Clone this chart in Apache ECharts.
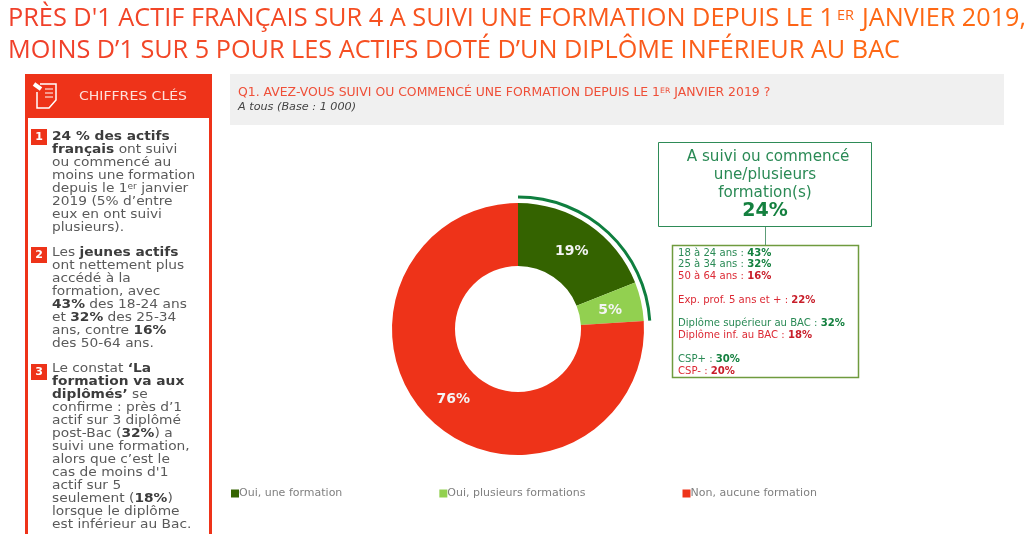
<!DOCTYPE html>
<html><head><meta charset="utf-8">
<style>html,body{margin:0;padding:0;background:#fff}#c{width:1024px;height:534px}</style>
<script src="https://cdn.jsdelivr.net/npm/echarts@6/dist/echarts.min.js"></script>
</head><body><div id="c"></div>
<script>
const categories = ['Oui, une formation','Oui, plusieurs formations','Non, aucune formation'];
const values = [19,5,76];
const arcValues = [24,76];
const titleA = "PRÈS D'1 ACTIF FRANÇAIS SUR 4 A SUIVI UNE FORMATION DEPUIS LE 1";
const titleSup = 'ER';
const titleB = 'JANVIER 2019,';
const title2 = "MOINS D’1 SUR 5 POUR LES ACTIFS DOTÉ D’UN DIPLÔME INFÉRIEUR AU BAC";
const header = 'CHIFFRES CLÉS';
const note1 = '{b|24 % des actifs}\n{b|français} ont suivi\nou commencé au\nmoins une formation\ndepuis le 1{s|er} janvier\n2019 (5% d’entre\neux en ont suivi\nplusieurs).';
const note2 = 'Les {b|jeunes actifs}\nont nettement plus\naccédé à la\nformation, avec\n{b|43%} des 18-24 ans\net {b|32%} des 25-34\nans, contre {b|16%}\ndes 50-64 ans.';
const note3 = "Le constat {b|‘La}\n{b|formation va aux}\n{b|diplômés’} se\nconfirme : près d’1\nactif sur 3 diplômé\npost-Bac ({b|32%}) a\nsuivi une formation,\nalors que c’est le\ncas de moins d'1\nactif sur 5\nseulement ({b|18%})\nlorsque le diplôme\nest inférieur au Bac.";
const q1 = 'Q1. AVEZ-VOUS SUIVI OU COMMENCÉ UNE FORMATION DEPUIS LE 1{s|ER} JANVIER 2019 ?';
const base = 'A tous (Base : 1 000)';
const calloutLines = ['A suivi ou commencé','une/plusieurs','formation(s)'];
const calloutValue = '24%';
const detailRows = [
 ['18 à 24 ans : ','43%','g'],['25 à 34 ans : ','32%','g'],['50 à 64 ans : ','16%','r'],['',''  ,'g'],
 ['Exp. prof. 5 ans et + : ','22%','r'],['','','g'],
 ['Diplôme supérieur au BAC : ','32%','g'],['Diplôme inf. au BAC : ','18%','r'],['','','g'],
 ['CSP+ : ','30%','g'],['CSP- : ','20%','r']
];
const FONT='"DejaVu Sans",Verdana,sans-serif', TF='"Open Sans","Noto Sans",sans-serif';
const RED='#ee3319';
const rect=(x,y,w,h,fill,stroke,lw)=>({type:'rect',shape:{x,y,width:w,height:h},style:{fill:fill||'none',stroke:stroke||'none',lineWidth:lw||0},silent:true});
const text=(x,y,t,st,extra)=>Object.assign({type:'text',x,y,silent:true,style:Object.assign({text:t,fontFamily:FONT,fontSize:12,fill:'#555',verticalAlign:'top'},st)},extra||{});
// title pieces: each word tinted along the left-to-right red/orange fade
const ctx=document.createElement('canvas').getContext('2d');
const tint=x=>{const t=Math.min(1,Math.max(0,(x-8)/900));const m=(a,b)=>Math.round(a+(b-a)*t);return `rgb(${m(240,255)},${m(64,106)},${m(42,19)})`;};
function words(str,x0,y,size,endX){
  ctx.font=size+'px '+TF;
  const k=(endX-x0)/ctx.measureText(str).width;
  const out=[];let pos=0;
  str.split(' ').forEach(w=>{
    const x=x0+ctx.measureText(str.slice(0,pos)).width*k;
    out.push(text(x,y,w,{fontFamily:TF,fontSize:size,fill:tint(x)},{scaleX:k}));
    pos+=w.length+1;
  });
  return out;
}
const noteStyle={fontFamily:FONT,fontSize:12.2,lineHeight:13,fill:'#5a5a5a',
  rich:{b:{fontFamily:FONT,fontSize:12.2,fontWeight:'bold',fill:'#3c3c3c',lineHeight:13},s:{fontFamily:FONT,fontSize:8,fill:'#5a5a5a',verticalAlign:'top',lineHeight:13}}};
const num=(y,n)=>[rect(31,y,16,16,RED),text(39,y+8.5,n,{fontSize:11,fontWeight:'bold',fill:'#fff',align:'center',verticalAlign:'middle'})];
const detailText=detailRows.map(r=>r[0]?`{${r[2]}|${r[0]}}{${r[2]}b|${r[1]}}`:'{g| }').join('\n');
const DS=10.1,DL=11.8;
const g=[
 ...words(titleA,8,6,25.3,834),
 text(837,8,titleSup,{fontFamily:TF,fontSize:14.5,fill:'#fd6414'}),
 ...words(titleB,862,6,25.3,1026),
 ...words(title2,8,38,25.3,900),
 // sidebar
 rect(26.5,75.5,184,470,'#fff',RED,3),
 rect(25,74,187,44,RED),
 text(133,97,header,{fontSize:12,fill:'#fde0da',align:'center',verticalAlign:'middle'},{scaleX:1.17}),
 // icon
 {type:'polyline',silent:true,shape:{points:[[40,84],[56,84],[56,100],[49,108],[37,108],[37,92]]},style:{fill:'none',stroke:'#fff',lineWidth:1.5}},
 {type:'line',silent:true,shape:{x1:34,y1:84,x2:41,y2:89},style:{stroke:'#fff',lineWidth:4}},
 {type:'line',silent:true,shape:{x1:45,y1:89,x2:53,y2:89},style:{stroke:'#fff',lineWidth:1}},
 {type:'line',silent:true,shape:{x1:45,y1:93,x2:53,y2:93},style:{stroke:'#fff',lineWidth:1}},
 {type:'line',silent:true,shape:{x1:45,y1:97,x2:53,y2:97},style:{stroke:'#fff',lineWidth:1}},
 ...num(129,'1'),...num(247,'2'),...num(364,'3'),
 text(52,130.5,note1,noteStyle,{scaleX:1.13}),
 text(52,246.5,note2,noteStyle,{scaleX:1.13}),
 text(52,362,note3,noteStyle,{scaleX:1.13}),
 // question
 rect(230,74,774,51,'#f0f0f0'),
 text(238,87,q1,{fontFamily:FONT,fontSize:12,fill:'#ef4f38',rich:{s:{fontFamily:FONT,fontSize:7.5,fill:'#ef4f38',verticalAlign:'top'}}},{scaleX:1.035}),
 text(238,102,base,{fontStyle:'italic',fontSize:11,fill:'#444'},{scaleX:1.02}),
 // callout
 rect(658.5,142.5,213,84,'#fff','#2e8b57',1),
 text(768,148,calloutLines[0],{fontSize:15.2,lineHeight:18,fill:'#2a8a55',align:'center'}),
 text(765,166,calloutLines[1],{fontSize:15.2,lineHeight:18,fill:'#2a8a55',align:'center'}),
 text(765,184,calloutLines[2],{fontSize:15.2,lineHeight:18,fill:'#2a8a55',align:'center'}),
 text(765,202,calloutValue,{fontSize:19,fontWeight:'bold',fill:'#14803f',align:'center'}),
 {type:'line',silent:true,shape:{x1:765.5,y1:227,x2:765.5,y2:245},style:{stroke:'#5d9c78',lineWidth:1}},
 rect(672.5,245.5,186,132,'#fff','#6f9b3e',1.5),
 text(678,247,detailText,{fontFamily:FONT,fontSize:DS,lineHeight:DL,fill:'#2a8a55',rich:{
   g:{fontFamily:FONT,fontSize:DS,fill:'#2a8a55',lineHeight:DL},gb:{fontFamily:FONT,fontSize:DS,fontWeight:'bold',fill:'#14803f',lineHeight:DL},
   r:{fontFamily:FONT,fontSize:DS,fill:'#dc2a35',lineHeight:DL},rb:{fontFamily:FONT,fontSize:DS,fontWeight:'bold',fill:'#c81e2a',lineHeight:DL}}})
];
const labelShift=[[-1,3],[-3,3],[2,-1]];
const chart=echarts.init(document.getElementById('c'),null,{renderer:'canvas'});
chart.setOption({
 animation:false,
 graphic:{elements:g},
 legend:{left:231,top:488,padding:0,data:categories,itemWidth:8,itemHeight:8,itemGap:97,icon:'rect',
   textStyle:{fontFamily:FONT,fontSize:11,color:'#7f7f7f',padding:[0,0,0,-5]},selectedMode:false},
 series:[
  {type:'pie',center:[518,329],radius:[63,126],startAngle:90,silent:true,z:3,
   label:{position:'inside',formatter:'{c}%',fontFamily:FONT,fontWeight:'bold',fontSize:14,color:'#f4f4f4'},labelLine:{show:false},
   data:categories.map((n,i)=>({name:n,value:values[i],label:{offset:labelShift[i]},itemStyle:{color:['#346300','#92d050',RED][i]}}))},
  {type:'pie',center:[518,329],radius:[130.5,133.5],startAngle:90,silent:true,z:2,label:{show:false},labelLine:{show:false},
   data:[{name:'arc',value:arcValues[0],itemStyle:{color:'#0f7f3f'}},{name:'rest',value:arcValues[1],itemStyle:{color:'rgba(0,0,0,0)'}}]}
 ]
});
</script></body></html>
